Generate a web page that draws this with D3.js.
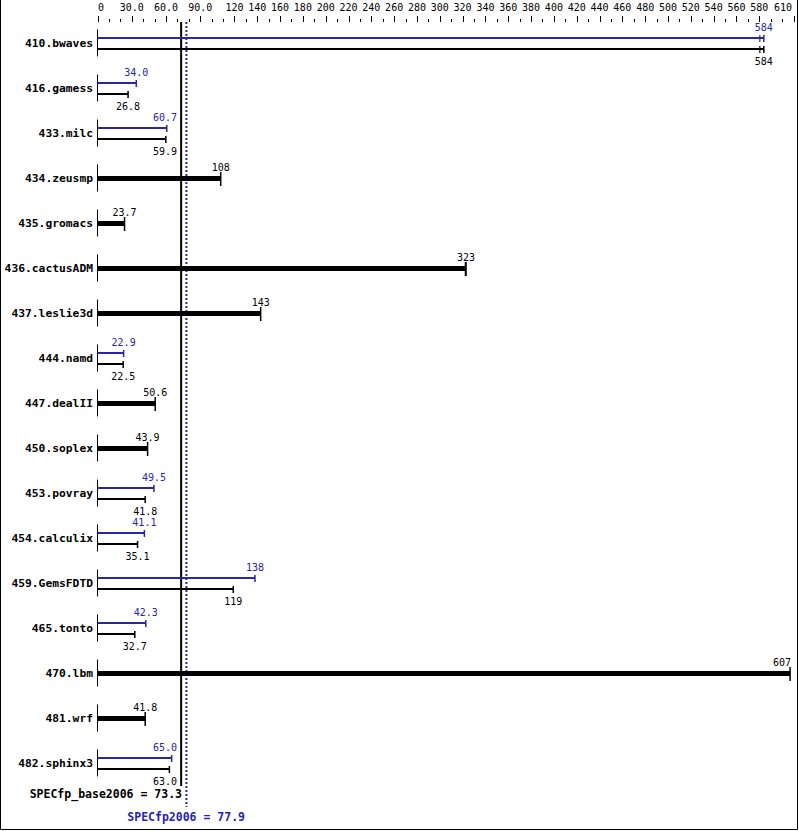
<!DOCTYPE html>
<html><head><meta charset="utf-8">
<script src="https://cdn.jsdelivr.net/npm/d3@7"></script>
<style>body{margin:0;background:#fff}svg{display:block}</style></head>
<body><script>
const benchmarks = ["410.bwaves","416.gamess","433.milc","434.zeusmp","435.gromacs","436.cactusADM","437.leslie3d","444.namd","447.dealII","450.soplex","453.povray","454.calculix","459.GemsFDTD","465.tonto","470.lbm","481.wrf","482.sphinx3"];
const baseValues = [584, 26.8, 59.9, 108, 23.7, 323, 143, 22.5, 50.6, 43.9, 41.8, 35.1, 119, 32.7, 607, 41.8, 63.0];
const peakValues = [584, 34.0, 60.7, null, null, null, null, 22.9, null, null, 49.5, 41.1, 138, 42.3, null, null, 65.0];
const baseLabels = ["584","26.8","59.9","108","23.7","323","143","22.5","50.6","43.9","41.8","35.1","119","32.7","607","41.8","63.0"];
const peakLabels = ["584","34.0","60.7",null,null,null,null,"22.9",null,null,"49.5","41.1","138","42.3",null,null,"65.0"];
// extra individual-run markers visible near bar ends
const baseRunTicks = [[580.5], [], [], [], [], [322.4], [], [], [], [], [], [], [], [], [], [], []];
const peakRunTicks = [[580.5], [], [], [], [], [], [], [], [], [], [], [], [], [], [], [], []];
const axisTicks = [0,30,60,90,120,140,160,180,200,220,240,260,280,300,320,340,360,380,400,420,440,460,480,500,520,540,560,580,610];
const axisTickLabels = ["0","30.0","60.0","90.0","120","140","160","180","200","220","240","260","280","300","320","340","360","380","400","420","440","460","480","500","520","540","560","580","610"];
const minorTicks = d3.range(10, 610, 10).filter(v => !axisTicks.includes(v));
const baseMean = 73.3, peakMean = 77.9;
const baseMeanLabel = "SPECfp_base2006 = 73.3";
const peakMeanLabel = "SPECfp2006 = 77.9";

const W = 799, H = 831;
const BLUE = "#2626a6";
const svg = d3.select("body").append("svg").attr("width", W).attr("height", H);
svg.append("rect").attr("width", W).attr("height", H).attr("fill", "#fff");

const x = d3.scaleLinear().domain([0, 610]).range([97.5, 793.5]);
const y = d3.scalePoint().domain(benchmarks).range([43, 43 + 45 * 16]);

const labelFont = "'DejaVu Sans Mono', monospace";
const CW = 6.02; // char width of 10px mono
const xb = x(baseMean);

// keep value labels from running into the mean lines
function labelX(v, txt) {
  const w = txt.length * CW;
  let c = x(v);
  if (c < xb && c + w / 2 > xb - 4) c = xb - 4 - w / 2;
  return Math.min(c, 791 - w / 2);
}

// frame
svg.append("path").attr("d", `M0.5,0 V${H-1.5} H${W-1.5} V0`).attr("fill","none").attr("stroke","#000").attr("stroke-width",1);

// top axis
const ax = svg.append("g");
ax.selectAll("line.maj").data(axisTicks).join("line")
  .attr("x1", d => Math.round(x(d)) + 0.5).attr("x2", d => Math.round(x(d)) + 0.5)
  .attr("y1", 16).attr("y2", 22).attr("stroke", "#000");
ax.selectAll("line.min").data(minorTicks).join("line")
  .attr("x1", d => Math.round(x(d)) + 0.5).attr("x2", d => Math.round(x(d)) + 0.5)
  .attr("y1", 19).attr("y2", 22).attr("stroke", "#000");
ax.selectAll("text").data(axisTicks).join("text")
  .attr("x", (d, i) => {
    const w = axisTickLabels[i].length * CW;
    let c = x(d);
    c = Math.max(c, 98 + w / 2);
    c = Math.min(c, 792 - w / 2);
    return c;
  })
  .attr("y", 11).attr("text-anchor", "middle")
  .attr("font-family", labelFont).attr("font-size", 10).text((d, i) => axisTickLabels[i]);

// mean lines
svg.append("line").attr("x1", xb).attr("x2", xb).attr("y1", 22).attr("y2", 786)
  .attr("stroke", "#000").attr("stroke-width", 2);
svg.append("line").attr("x1", x(peakMean)).attr("x2", x(peakMean)).attr("y1", 22).attr("y2", 807)
  .attr("stroke", BLUE).attr("stroke-width", 2).attr("stroke-dasharray", "2,2");

const rows = svg.selectAll("g.row").data(benchmarks).join("g").attr("class", "row");
rows.each(function(name, i) {
  const g = d3.select(this);
  const cy = y(name);
  g.append("text").attr("x", 93).attr("y", cy + 4).attr("text-anchor", "end")
    .attr("font-family", labelFont).attr("font-weight", "bold").attr("font-size", 11.3).text(name);
  g.append("line").attr("x1", 97.5).attr("x2", 97.5).attr("y1", cy - 13.5).attr("y2", cy + 13.5)
    .attr("stroke", "#000");
  const b = baseValues[i], p = peakValues[i];
  if (p === null) {
    g.append("line").attr("x1", x(0)).attr("x2", x(b)).attr("y1", cy + 0.5).attr("y2", cy + 0.5)
      .attr("stroke", "#000").attr("stroke-width", 5);
    g.append("line").attr("x1", x(b)).attr("x2", x(b)).attr("y1", cy - 6).attr("y2", cy + 8)
      .attr("stroke", "#000").attr("stroke-width", 1.5);
    baseRunTicks[i].forEach(v => g.append("line").attr("x1", x(v)).attr("x2", x(v))
      .attr("y1", cy - 6).attr("y2", cy + 8).attr("stroke", "#000").attr("stroke-width", 1.2));
    g.append("text").attr("x", labelX(b, baseLabels[i])).attr("y", cy - 7.5).attr("text-anchor", "middle")
      .attr("font-family", labelFont).attr("font-size", 10).text(baseLabels[i]);
  } else {
    const py = cy - 5, by = cy + 6;
    g.append("line").attr("x1", x(0)).attr("x2", x(p)).attr("y1", py).attr("y2", py)
      .attr("stroke", BLUE).attr("stroke-width", 2);
    g.append("line").attr("x1", x(p)).attr("x2", x(p)).attr("y1", py - 3).attr("y2", py + 4)
      .attr("stroke", BLUE).attr("stroke-width", 1.5);
    peakRunTicks[i].forEach(v => g.append("line").attr("x1", x(v)).attr("x2", x(v))
      .attr("y1", py - 3).attr("y2", py + 4).attr("stroke", BLUE).attr("stroke-width", 1.2));
    g.append("text").attr("x", labelX(p, peakLabels[i])).attr("y", cy - 12).attr("text-anchor", "middle")
      .attr("fill", BLUE).attr("font-family", labelFont).attr("font-size", 10).text(peakLabels[i]);
    g.append("line").attr("x1", x(0)).attr("x2", x(b)).attr("y1", by).attr("y2", by)
      .attr("stroke", "#000").attr("stroke-width", 2);
    g.append("line").attr("x1", x(b)).attr("x2", x(b)).attr("y1", by - 3).attr("y2", by + 4)
      .attr("stroke", "#000").attr("stroke-width", 1.5);
    baseRunTicks[i].forEach(v => g.append("line").attr("x1", x(v)).attr("x2", x(v))
      .attr("y1", by - 3).attr("y2", by + 4).attr("stroke", "#000").attr("stroke-width", 1.2));
    g.append("text").attr("x", labelX(b, baseLabels[i])).attr("y", cy + 22).attr("text-anchor", "middle")
      .attr("font-family", labelFont).attr("font-size", 10).text(baseLabels[i]);
  }
});

svg.append("text").attr("x", 182).attr("y", 798).attr("text-anchor", "end")
  .attr("font-family", labelFont).attr("font-weight", "bold").attr("font-size", 11.5).text(baseMeanLabel);
svg.append("text").attr("x", 245).attr("y", 821).attr("text-anchor", "end").attr("fill", BLUE)
  .attr("font-family", labelFont).attr("font-weight", "bold").attr("font-size", 11.5).text(peakMeanLabel);
</script></body></html>
